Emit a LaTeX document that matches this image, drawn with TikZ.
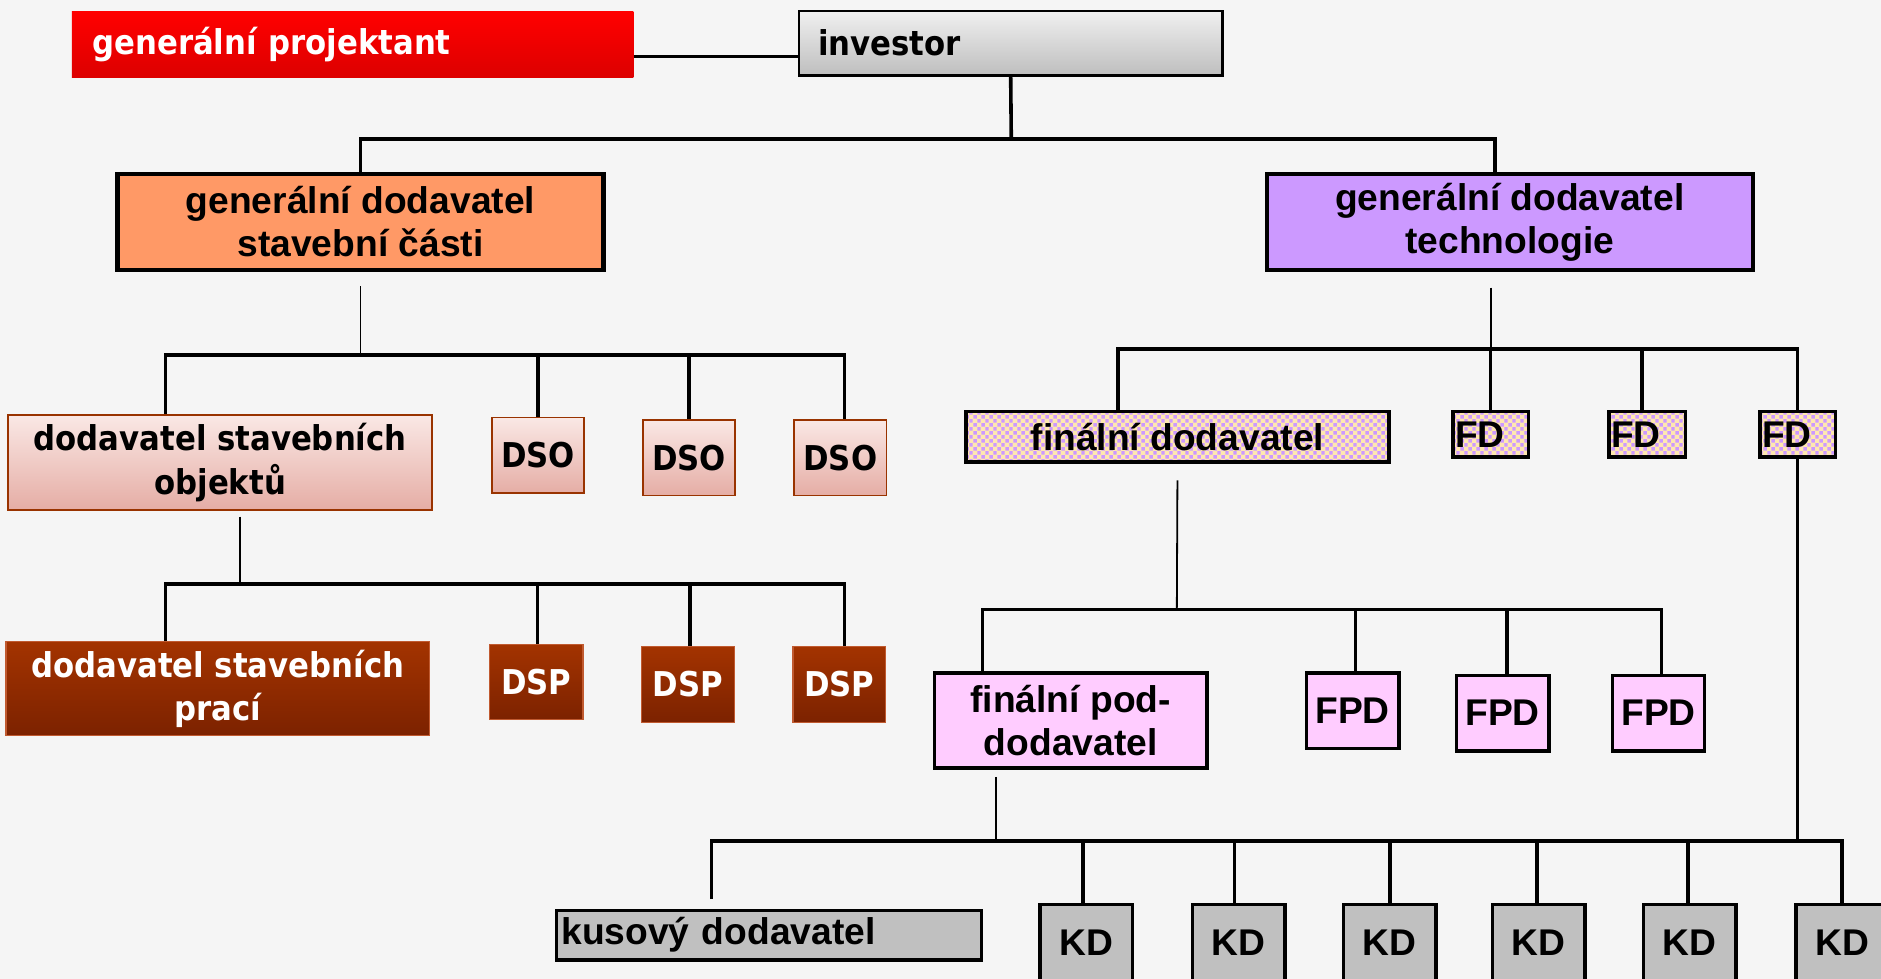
\documentclass[tikz,border=0pt]{standalone}
\usepackage{fontspec}
\setmainfont{Liberation Sans}
\newfontfamily\tah[FakeStretch=0.9]{DejaVu Sans}
\usetikzlibrary{patterns.meta}
\definecolor{bg}{HTML}{F5F5F5}
\definecolor{redT}{HTML}{FF0000}
\definecolor{redB}{HTML}{DC0000}
\definecolor{invT}{HTML}{F0F0F0}
\definecolor{invB}{HTML}{BEBEBE}
\definecolor{orng}{HTML}{FF9966}
\definecolor{lav}{HTML}{CC99FF}
\definecolor{dsoT}{HTML}{FAE8E5}
\definecolor{dsoB}{HTML}{E5ADA5}
\definecolor{brn}{HTML}{993300}
\definecolor{dspT}{HTML}{A33300}
\definecolor{dspB}{HTML}{7C2200}
\definecolor{dspE}{HTML}{C05A30}
\definecolor{fdy}{HTML}{FFE8B0}
\definecolor{fpdc}{HTML}{FFCCFF}
\definecolor{kdc}{HTML}{C0C0C0}
\tikzdeclarepattern{name=lavdots, type=uncolored,
  bounding box={(0pt,0pt) and (7pt,7pt)}, tile size={(7pt,7pt)},
  code={\fill (0.3pt,0.3pt) rectangle (3.4pt,3.4pt); \fill (3.8pt,3.8pt) rectangle (6.9pt,6.9pt);}}
\tikzset{
  ar/.style={font=\fontsize{31}{36}\selectfont\bfseries},
  ta/.style={font=\fontsize{28.5}{36}\selectfont\tah\bfseries},
  bx/.style={rectangle, inner sep=0pt, align=center},
  gdbox/.style={bx, ar, draw=black, line width=3.5pt, minimum width=405pt, minimum height=80pt},
  dsobox/.style={bx, ta, draw=brn, line width=1.5pt, top color=dsoT, bottom color=dsoB},
  dspbox/.style={bx, ta, text=white, draw=dspE, line width=1pt, top color=dspT, bottom color=dspB},
  fdbox/.style={bx, ar, draw=black, line width=3pt, preaction={fill=fdy}, pattern={lavdots}, pattern color=lav},
  fpdbox/.style={bx, ar, draw=black, line width=3pt, fill=fpdc},
  kdbox/.style={bx, ar, draw=black, line width=3pt, fill=kdc, minimum width=77pt, minimum height=64pt},
  thk/.style={line width=3pt},
  thn/.style={line width=1.5pt},
}
\begin{document}
\begin{tikzpicture}[x=1pt,y=-1pt]
\fill[bg] (0,0) rectangle (1568,816);
\useasboundingbox (0,0) rectangle (1568,816);

% level 0
\node[bx, ta, text=white, top color=redT, bottom color=redB, minimum width=468pt, minimum height=55pt, text width=434pt, align=left] (gp) at (294,37.5) {generální projektant};
\node[bx, ta, draw=black, line width=2pt, top color=invT, bottom color=invB, minimum width=353pt, minimum height=54pt, text width=321pt, align=left] (inv) at (842.5,36) {investor};

% level 1
\node[gdbox, fill=orng] (gds) at (300.5,185) {generální dodavatel\\stavební části};
\node[gdbox, fill=lav] (gdt) at (1258.5,185) {generální dodavatel\\technologie};

% left branch
\node[dsobox, minimum width=353pt, minimum height=79pt] (dsom) at (183.5,385.5) {dodavatel stavebních\\objektů};
\node[dsobox, minimum width=77pt, minimum height=63pt] (dso1) at (448.5,379.5) {DSO};
\node[dsobox, minimum width=77pt, minimum height=63pt] (dso2) at (574.5,381.5) {DSO};
\node[dsobox, minimum width=77pt, minimum height=63pt] (dso3) at (700.5,381.5) {DSO};

\node[dspbox, minimum width=353pt, minimum height=78pt] (dspm) at (181.5,574) {dodavatel stavebních\\prací};
\node[dspbox, minimum width=78pt, minimum height=63pt] (dsp1) at (447,568.5) {DSP};
\node[dspbox, minimum width=77pt, minimum height=63pt] (dsp2) at (573.5,570.5) {DSP};
\node[dspbox, minimum width=77pt, minimum height=63pt] (dsp3) at (699.5,570.5) {DSP};

% right branch
\node[fdbox, minimum width=353pt, minimum height=42pt] (fdm) at (981.5,364) {finální dodavatel};
\node[fdbox, minimum width=63pt, minimum height=38pt, text width=59pt, align=left] (fd1) at (1242.5,362) {FD};
\node[fdbox, minimum width=64pt, minimum height=38pt, text width=60pt, align=left] (fd2) at (1373,362) {FD};
\node[fdbox, minimum width=63pt, minimum height=38pt, text width=59pt, align=left] (fd3) at (1498.5,362) {FD};

\node[fpdbox, minimum width=227pt, minimum height=79pt] (fpdm) at (892.5,600.5) {finální pod-\\dodavatel};
\node[fpdbox, minimum width=77pt, minimum height=63pt] (fpd1) at (1127.5,592.5) {FPD};
\node[fpdbox, minimum width=77pt, minimum height=63pt] (fpd2) at (1252.5,594.5) {FPD};
\node[fpdbox, minimum width=77pt, minimum height=63pt] (fpd3) at (1382.5,594.5) {FPD};

\node[bx, ar, draw=black, line width=3pt, fill=kdc, minimum width=354pt, minimum height=41pt, text width=346pt, align=left] (kus) at (641,779.5) {kusový dodavatel};
\node[kdbox] (kd1) at (905.5,786) {KD};
\node[kdbox] (kd2) at (1032.5,786) {KD};
\node[kdbox] (kd3) at (1158.5,786) {KD};
\node[kdbox] (kd4) at (1282.5,786) {KD};
\node[kdbox] (kd5) at (1408.5,786) {KD};
\node[kdbox] (kd6) at (1535.5,786) {KD};

% bus coordinates
\coordinate (b1) at (843,116);
\coordinate (b2) at (300,296);
\coordinate (b3) at (200,487);
\coordinate (b4) at (1243,291);
\coordinate (b5) at (981,508);
\coordinate (b6) at (830,701);

% connectors
\draw[thk] ([yshift=-9.5pt]gp.east) -- ([yshift=-9.5pt]gp.east -| inv.west);
\draw[thk] (inv.south) -- (b1);
\draw[thk] (gds.north) |- (b1);
\draw[thk] ([xshift=-12.5pt]gdt.north) |- (b1);

\draw[thn] ([yshift=-12pt]gds.south) -- (gds.south |- b2);
\draw[thk] ([xshift=-45.5pt]dsom.north) |- (b2);
\draw[thk] (dso1.north) |- (b2);
\draw[thk] (dso2.north) |- (b2);
\draw[thk] ([xshift=3.5pt]dso3.north) |- (b2);

\draw[thn] ([xshift=16.5pt,yshift=-5pt]dsom.south) -- (b3);
\draw[thk] ([xshift=-43.5pt]dspm.north) |- (b3);
\draw[thk] ([xshift=1pt]dsp1.north) |- (b3);
\draw[thk] ([xshift=1.5pt]dsp2.north) |- (b3);
\draw[thk] ([xshift=4.5pt]dsp3.north) |- (b3);

\draw[thn] ([xshift=-15.5pt,yshift=-13pt]gdt.south) -- (b4);
\draw[thk] ([xshift=-49.5pt]fdm.north) |- (b4);
\draw[thk] (fd1.north) |- (b4);
\draw[thk] ([xshift=-4pt]fd2.north) |- (b4);
\draw[thk] (fd3.north) |- (b4);
\draw[thk] (fd3.south) -- (fd3.south |- b6);

\draw[thn] ([yshift=-14pt]fdm.south) -- (b5);
\draw[thk] ([xshift=-73.5pt]fpdm.north) |- (b5);
\draw[thk] ([xshift=2.5pt]fpd1.north) |- (b5);
\draw[thk] ([xshift=3.5pt]fpd2.north) |- (b5);
\draw[thk] ([xshift=2.5pt]fpd3.north) |- (b5);

\draw[thn] ([xshift=-62.5pt,yshift=-6pt]fpdm.south) -- (b6);
\draw[thk] ([xshift=-48pt,yshift=8pt]kus.north) |- (b6);
\draw[thk] ([xshift=-2.5pt]kd1.north) |- (b6);
\draw[thk] ([xshift=-3.5pt]kd2.north) |- (b6);
\draw[thk] (kd3.north) |- (b6);
\draw[thk] ([xshift=-1.5pt]kd4.north) |- (b6);
\draw[thk] ([xshift=-1.5pt]kd5.north) |- (b6);
\draw[thk] (kd6.north) |- (b6);
\end{tikzpicture}
\end{document}
